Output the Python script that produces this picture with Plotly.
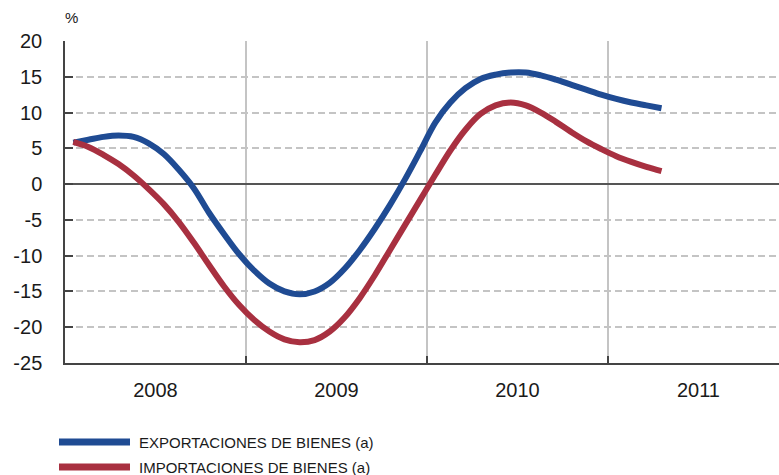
import plotly.graph_objects as go

# Monthly observations, Jan 2008 .. Apr 2011 (month index from Jan 2008)
months = list(range(40))
exportaciones = [5.8, 6.2, 6.6, 6.8, 6.6, 5.7, 4.2, 2.0, -0.6, -4.0,
                 -7.0, -9.8, -12.1, -13.9, -15.0, -15.4, -15.0, -13.8, -11.8, -9.2,
                 -6.2, -2.9, 0.7, 4.6, 8.6, 11.4, 13.4, 14.7, 15.3, 15.6,
                 15.6, 15.2, 14.6, 13.9, 13.2, 12.5, 11.9, 11.4, 11.0, 10.6]
importaciones = [5.9, 5.2, 4.1, 2.8, 1.2, -0.7, -2.8, -5.3, -8.2, -11.3,
                 -14.3, -16.9, -19.0, -20.6, -21.7, -22.1, -21.8, -20.6, -18.6, -15.9,
                 -12.7, -9.2, -5.7, -2.2, 1.3, 4.7, 7.6, 9.8, 11.0, 11.4,
                 11.0, 10.0, 8.7, 7.3, 6.0, 4.9, 3.9, 3.1, 2.4, 1.8]
year_labels = ["2008", "2009", "2010", "2011"]
year_bounds = [2009, 2010, 2011]
y_ticks = [-25, -20, -15, -10, -5, 0, 5, 10, 15, 20]
y_ticktext = ["-25", "-20", "-15", "-10", "-5", "0", "5", "10", "15", "20"]
legend_names = ["EXPORTACIONES DE BIENES (a)", "IMPORTACIONES DE BIENES (a)"]

x = [2008 + (m + 0.55) / 12 for m in months]
BLUE = "#1f4b93"
RED = "#a83040"
TXT = "#1a1a1a"

fig = go.Figure()
fig.add_trace(go.Scatter(x=x, y=exportaciones, mode="lines", name=legend_names[0],
                         line=dict(color=BLUE, width=6, shape="spline", smoothing=1.0)))
fig.add_trace(go.Scatter(x=x, y=importaciones, mode="lines", name=legend_names[1],
                         line=dict(color=RED, width=6, shape="spline", smoothing=1.0)))

fig.update_layout(
    width=779, height=475,
    margin=dict(l=65, r=0, t=41, b=112),
    paper_bgcolor="white", plot_bgcolor="white",
    showlegend=False,
    hovermode=False,
    font=dict(family="Liberation Sans, Arial, sans-serif", color=TXT),
)
fig.update_xaxes(
    automargin=False,
    range=[2008, 2011.945],
    tickmode="array",
    tickvals=[2008.5 + i for i in range(len(year_labels))],
    ticktext=year_labels,
    ticks="",
    showgrid=False,
    zeroline=False,
    showline=True, linecolor="#444", linewidth=1.5,
    tickfont=dict(size=20, color=TXT),
    ticklabelstandoff=8,
    minor=dict(tickmode="array", tickvals=year_bounds, ticks="inside", ticklen=7,
               tickcolor="#444", tickwidth=1.5, showgrid=True, gridcolor="#c4c4c4", gridwidth=1.5),
)
fig.update_yaxes(
    automargin=False,
    range=[-25, 20],
    tickmode="array", tickvals=y_ticks, ticktext=y_ticktext,
    ticks="inside", ticklen=8, tickcolor="#444", tickwidth=1.5,
    showgrid=True, gridcolor="#c4c4c4", griddash="7px,4px", gridwidth=1.5,
    zeroline=True, zerolinecolor="#555", zerolinewidth=1.5,
    showline=True, linecolor="#444", linewidth=1.5,
    tickfont=dict(size=20, color=TXT),
    ticklabelstandoff=17,
)

fig.add_annotation(xref="paper", yref="paper", x=0.0, y=1.0, xanchor="left", yanchor="bottom",
                   text="%", showarrow=False, font=dict(size=15, color=TXT), yshift=13, xshift=-2)

# manual legend
colors = [BLUE, RED]
ys = [442, 467]
for name, c, yp in zip(legend_names, colors, ys):
    yy = 1 - (yp - 41) / (475 - 41 - 112)
    fig.add_shape(type="line", xref="paper", yref="paper",
                  x0=(59 - 65) / 714, x1=(130 - 65) / 714, y0=yy, y1=yy,
                  line=dict(color=c, width=7))
    fig.add_annotation(xref="paper", yref="paper", x=(137 - 65) / 714, y=yy,
                       xanchor="left", yanchor="middle", text=name, showarrow=False,
                       font=dict(size=15, color=TXT))

fig.write_html("out.html", config={"displayModeBar": False},
               post_script="document.body.style.margin='0px';")
